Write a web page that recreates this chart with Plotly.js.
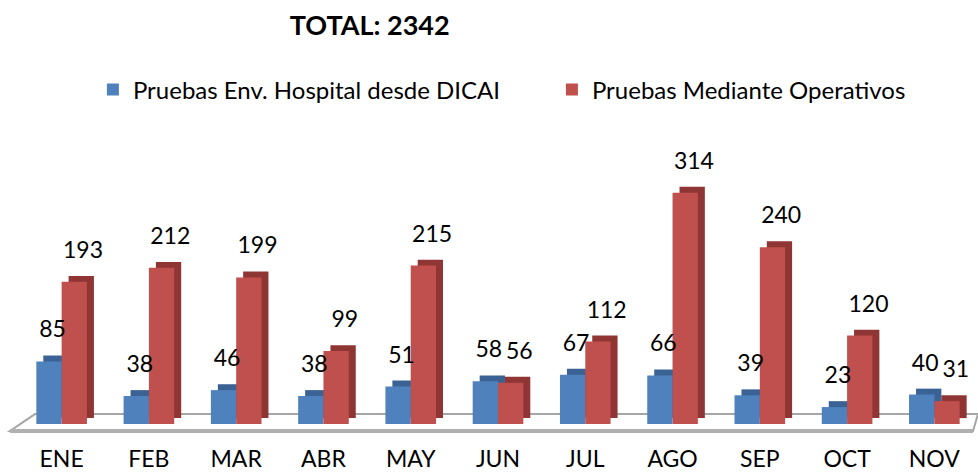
<!DOCTYPE html>
<html>
<head>
<meta charset="utf-8">
<script src="https://cdn.plot.ly/plotly-3.0.1.min.js"></script>
<style>html,body{margin:0;padding:0;background:#fff;}#chart{width:978px;height:473px;}</style>
</head>
<body>
<div id="chart"></div>
<script>
// ---- data ----
const months = ["ENE","FEB","MAR","ABR","MAY","JUN","JUL","AGO","SEP","OCT","NOV"];
const hospital = [85, 38, 46, 38, 51, 58, 67, 66, 39, 23, 40];
const operativos = [193, 212, 199, 99, 215, 56, 112, 314, 240, 120, 31];
const seriesNames = ["Pruebas Env. Hospital desde DICAI", "Pruebas Mediante Operativos"];
const titleText = "TOTAL: 2342";

// ---- style ----
const FONT = "Lato, 'Open Sans', sans-serif";
const blue = "#4f81bd", blueDark = "#3a6294";
const red = "#c0504d", redDark = "#8f3533";
const BW = 0.29;          // bar width (category units)
const DX = 0.08;          // 3D depth, horizontal (category units)
const DY = 8;             // 3D depth, vertical (value units)
const idx = months.map((m, i) => i);

function shadow(vals, off, color) {
  return {type: "bar", x: idx, y: vals, base: vals.map(() => DY), offset: off + DX, width: BW,
    marker: {color: color, line: {width: 0}}, showlegend: false, hoverinfo: "skip"};
}
function front(vals, off, color, name) {
  return {type: "bar", x: idx, y: vals, offset: off, width: BW, name: name,
    marker: {color: color, line: {width: 0}}, hoverinfo: "y"};
}
function labels(vals, off, shift) {
  return {type: "scatter", mode: "markers+text", x: idx.map(i => i + off + (BW + DX) / 2 + shift),
    y: vals.map(v => v + DY), text: vals.map(String), textposition: "top center",
    marker: {size: 18, opacity: 0}, textfont: {family: FONT, size: 23, color: "#000"},
    showlegend: false, hoverinfo: "skip", cliponaxis: false};
}

const data = [
  shadow(hospital, -BW, blueDark),
  front(hospital, -BW, blue, seriesNames[0]),
  shadow(operativos, 0, redDark),
  front(operativos, 0, red, seriesNames[1]),
  labels(hospital, -BW, 0),
  labels(operativos, 0, 0.06)
];

const layout = {
  width: 978, height: 473,
  margin: {l: 18, r: 0, t: 110, b: 49},
  paper_bgcolor: "#fff", plot_bgcolor: "rgba(0,0,0,0)",
  barmode: "overlay",
  title: {text: "<b>" + titleText + "</b>", font: {family: FONT, size: 27, color: "#000"},
    xref: "container", x: 0.378, xanchor: "center", yref: "container", y: 0.945, yanchor: "middle"},
  legend: {orientation: "h", xref: "container", yref: "container", x: 0.095, xanchor: "left",
    y: 0.81, yanchor: "middle", entrywidth: 414, font: {family: FONT, size: 24, color: "#000"},
    traceorder: "normal"},
  xaxis: {range: [-0.5, 10.5], tickmode: "array", tickvals: idx, ticktext: months,
    showgrid: false, zeroline: false, showline: false, ticks: "", ticklabelstandoff: 19,
    tickfont: {family: FONT, size: 23, color: "#000"}, fixedrange: true},
  yaxis: {range: [0, 423], visible: false, showgrid: false, zeroline: false, fixedrange: true},
  shapes: [
    {type: "path", xref: "paper", yref: "paper", layer: "below",
      path: "M 0.0177 0.0318 L 1.0 0.0318 L 0.9948 -0.0223 L -0.0083 -0.0223 Z",
      fillcolor: "#ffffff", line: {color: "#a6a6a6", width: 2}},
    {type: "line", xref: "paper", yref: "paper", layer: "below",
      x0: -0.0083, x1: 0.9948, y0: -0.0223, y1: -0.0223, line: {color: "#b0b0b0", width: 4}}
  ],
  showlegend: true
};

Plotly.newPlot("chart", data, layout, {displayModeBar: false, staticPlot: true});
</script>
</body>
</html>
